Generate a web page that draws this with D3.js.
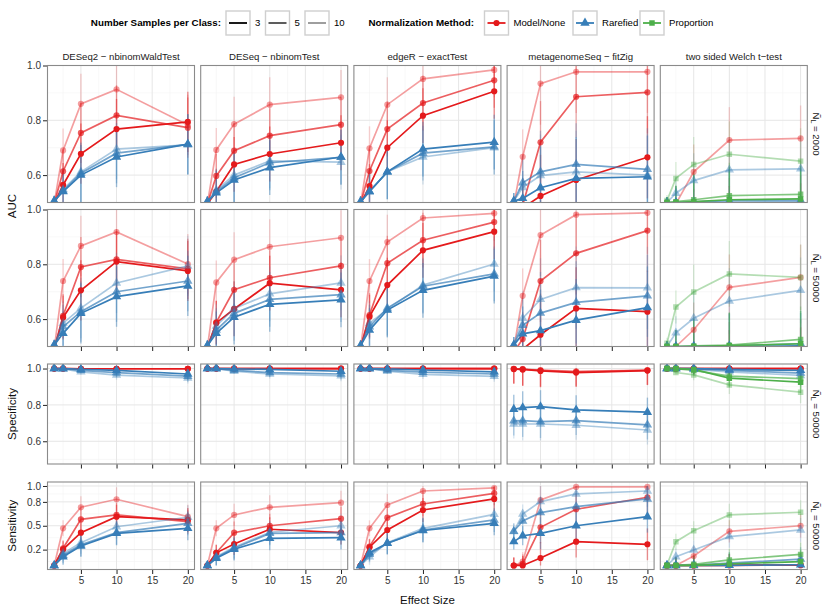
<!DOCTYPE html>
<html><head><meta charset="utf-8">
<script src="https://cdn.jsdelivr.net/npm/d3@7"></script>
<style>body{margin:0;background:#fff}</style>
</head><body><svg id="c" width="830" height="611"></svg>
<script>
// ---------------- DATA ----------------
const effectSizes = [1.25, 2.5, 5, 10, 20];
const xTickValues = [5, 10, 15, 20];
const xMinorValues = [2.5, 7.5, 12.5, 17.5];
const methods = ["DESeq2 \u2212 nbinomWaldTest", "DESeq \u2212 nbinomTest", "edgeR \u2212 exactTest", "metagenomeSeq \u2212 fitZig", "two sided Welch t\u2212test"];
const sampleSizes = ["3", "5", "10"];
const normMethods = ["Model/None", "Rarefied", "Proportion"];
const libSizes = ["2000", "50000", "50000", "50000"];
const metricTitles = ["AUC", "Specificity", "Sensitivity"];
const yTicksAUC = [0.6, 0.8, 1.0], yMinorAUC = [0.5, 0.7, 0.9];
const yTicksSpec = [0.6, 0.8, 1.0], yMinorSpec = [0.5, 0.7, 0.9];
const yTicksSens = [0.2, 0.5, 0.8, 1.0], yMinorSens = [0.05, 0.35, 0.65, 0.9];

// each array: rows = sample size 3, 5, 10 ; columns = effect sizes
// AUC, N_L = 2000
const auc2k_DESeq2_None = [[0.495,0.564,0.678,0.768,0.794],[0.495,0.614,0.754,0.818,0.773],[0.495,0.69,0.86,0.913,0.783]];
const auc2k_DESeq2_Rare = [[0.505,0.54,0.6,0.666,0.713],[0.505,0.543,0.607,0.68,0.712],[0.505,0.548,0.612,0.695,0.71]];
const auc2k_DESeq_None  = [[0.495,0.54,0.639,0.677,0.718],[0.495,0.597,0.689,0.744,0.784],[0.495,0.692,0.786,0.857,0.884]];
const auc2k_DESeq_Rare  = [[0.503,0.535,0.582,0.627,0.666],[0.503,0.54,0.59,0.645,0.665],[0.503,0.545,0.6,0.652,0.647]];
const auc2k_edgeR_None  = [[0.495,0.56,0.7,0.817,0.906],[0.495,0.615,0.768,0.863,0.946],[0.495,0.698,0.857,0.951,0.984]];
const auc2k_edgeR_Rare  = [[0.503,0.54,0.612,0.695,0.72],[0.503,0.54,0.612,0.68,0.703],[0.503,0.54,0.612,0.666,0.7]];
const auc2k_mgs_None    = [[0.46,0.48,0.524,0.582,0.665],[0.48,0.49,0.72,0.886,0.902],[0.49,0.667,0.934,0.977,0.977]];
const auc2k_mgs_Rare    = [[0.505,0.515,0.554,0.588,0.594],[0.505,0.572,0.612,0.639,0.621],[0.505,0.555,0.598,0.612,0.6]];
const auc2k_ttest_None  = [[0.4,0.41,0.42,0.44,0.45],[0.42,0.43,0.45,0.47,0.48],[0.47,0.495,0.612,0.728,0.734]];
const auc2k_ttest_Rare  = [[0.499,0.499,0.5,0.5,0.501],[0.5,0.5,0.502,0.507,0.508],[0.5,0.534,0.58,0.619,0.623]];
const auc2k_ttest_Prop  = [[0.5,0.5,0.503,0.51,0.513],[0.5,0.503,0.51,0.525,0.53],[0.507,0.588,0.639,0.676,0.651]];
// AUC, N_L = 50000
const auc50k_DESeq2_None = [[0.49,0.606,0.705,0.81,0.776],[0.49,0.612,0.79,0.818,0.783],[0.49,0.739,0.867,0.918,0.801]];
const auc50k_DESeq2_Rare = [[0.505,0.548,0.621,0.682,0.721],[0.505,0.572,0.627,0.7,0.739],[0.505,0.585,0.64,0.732,0.794]];
const auc50k_DESeq_None  = [[0.495,0.586,0.637,0.731,0.707],[0.495,0.588,0.707,0.751,0.794],[0.495,0.734,0.817,0.864,0.897]];
const auc50k_DESeq_Rare  = [[0.503,0.548,0.607,0.654,0.67],[0.503,0.56,0.621,0.672,0.689],[0.503,0.575,0.639,0.692,0.732]];
const auc50k_edgeR_None  = [[0.495,0.609,0.724,0.851,0.919],[0.495,0.615,0.804,0.888,0.954],[0.495,0.739,0.881,0.969,0.986]];
const auc50k_edgeR_Rare  = [[0.503,0.56,0.633,0.705,0.757],[0.503,0.572,0.64,0.72,0.765],[0.503,0.585,0.635,0.724,0.801]];
const auc50k_mgs_None    = [[0.46,0.49,0.543,0.639,0.627],[0.48,0.527,0.739,0.84,0.923],[0.49,0.685,0.907,0.981,0.988]];
const auc50k_mgs_Rare    = [[0.505,0.546,0.558,0.596,0.642],[0.505,0.577,0.622,0.661,0.685],[0.505,0.603,0.672,0.715,0.714]];
const auc50k_ttest_None  = [[0.4,0.41,0.42,0.44,0.45],[0.42,0.43,0.45,0.47,0.48],[0.47,0.5,0.561,0.716,0.752]];
const auc50k_ttest_Rare  = [[0.499,0.499,0.5,0.5,0.502],[0.5,0.5,0.5,0.502,0.51],[0.5,0.55,0.603,0.666,0.705]];
const auc50k_ttest_Prop  = [[0.5,0.5,0.5,0.503,0.51],[0.5,0.5,0.502,0.505,0.526],[0.512,0.644,0.699,0.765,0.752]];
// Specificity, N_L = 50000
const spec_DESeq2_None = [[1,1,0.999,0.999,0.999],[1,1,0.999,0.999,0.999],[1,1,0.999,0.999,0.999]];
const spec_DESeq2_Rare = [[1,1,0.996,0.99,0.97],[1,0.999,0.99,0.978,0.958],[1,0.998,0.982,0.964,0.948]];
const spec_DESeq_None  = [[1,1,1,1,1],[1,1,1,1,1],[1,1,1,1,1]];
const spec_DESeq_Rare  = [[1,1,0.998,0.995,0.985],[1,1,0.99,0.978,0.97],[1,0.999,0.985,0.97,0.96]];
const spec_edgeR_None  = [[1,1,1,1,1],[1,1,1,1,1],[1,1,1,1,1]];
const spec_edgeR_Rare  = [[1,1,0.998,0.992,0.982],[1,1,0.99,0.98,0.97],[1,0.999,0.985,0.968,0.957]];
const spec_mgs_None    = [[0.997,0.995,0.987,0.978,0.989],[0.998,0.996,0.99,0.982,0.99],[0.999,0.997,0.992,0.985,0.992]];
const spec_mgs_Rare    = [[0.776,0.785,0.791,0.773,0.76],[0.712,0.714,0.708,0.714,0.69],[0.695,0.695,0.695,0.688,0.662]];
const spec_ttest_None  = [[1,1,1,1,1],[1,1,1,1,1],[1,1,1,1,1]];
const spec_ttest_Rare  = [[1,1,1,0.995,0.99],[1,1,0.998,0.99,0.975],[1,1,0.995,0.982,0.962]];
const spec_ttest_Prop  = [[1,1,0.995,0.947,0.925],[1,0.999,0.99,0.958,0.945],[1,0.978,0.965,0.91,0.87]];
// Sensitivity, N_L = 50000
const sens_DESeq2_None = [[0,0.204,0.413,0.614,0.573],[0,0.217,0.58,0.636,0.551],[0,0.468,0.732,0.833,0.614]];
const sens_DESeq2_Rare = [[0,0.111,0.246,0.404,0.468],[0,0.13,0.26,0.413,0.531],[0,0.154,0.287,0.488,0.607]];
const sens_DESeq_None  = [[0,0.16,0.271,0.456,0.413],[0,0.161,0.413,0.5,0.589],[0,0.468,0.636,0.732,0.79]];
const sens_DESeq_Rare  = [[0,0.091,0.204,0.342,0.35],[0,0.1,0.217,0.404,0.413],[0,0.11,0.23,0.418,0.5]];
const sens_edgeR_None  = [[0,0.23,0.447,0.698,0.837],[0,0.237,0.602,0.774,0.908],[0,0.468,0.761,0.937,0.975]];
const sens_edgeR_Rare  = [[0,0.161,0.28,0.44,0.531],[0,0.141,0.28,0.447,0.573],[0,0.11,0.287,0.468,0.644]];
const sens_mgs_None    = [[0,0,0.095,0.3,0.267],[0,0.02,0.48,0.707,0.858],[0,0.048,0.824,0.988,0.988]];
const sens_mgs_Rare    = [[0.3,0.375,0.405,0.5,0.614],[0.43,0.56,0.665,0.74,0.837],[0.426,0.648,0.803,0.9,0.937]];
const sens_ttest_None  = [[0,0,0,0.003,0.005],[0,0,0,0.005,0.01],[0,0,0.12,0.43,0.5]];
const sens_ttest_Rare  = [[0,0,0,0.003,0.01],[0,0,0.005,0.03,0.08],[0,0.11,0.195,0.363,0.447]];
const sens_ttest_Prop  = [[0,0,0.003,0.02,0.05],[0,0.003,0.015,0.07,0.14],[0.007,0.3,0.438,0.636,0.67]];

// error-bar half widths, one array per panel (effect sizes)
const err_auc2k  = [[0.02,0.08,0.11,0.11,0.11],[0.02,0.08,0.1,0.1,0.1],[0.02,0.08,0.1,0.1,0.1],[0.03,0.1,0.15,0.15,0.15],[0.02,0.06,0.1,0.12,0.12]];
const err_auc50k = [[0.02,0.08,0.11,0.11,0.11],[0.02,0.08,0.1,0.1,0.1],[0.02,0.08,0.1,0.1,0.1],[0.03,0.1,0.15,0.15,0.15],[0.02,0.06,0.1,0.12,0.12]];
const err_spec   = [[0.002,0.005,0.015,0.025,0.03],[0.002,0.005,0.015,0.025,0.03],[0.002,0.005,0.015,0.025,0.03],[0.08,0.09,0.09,0.08,0.08],[0.003,0.01,0.03,0.05,0.06]];
const err_sens   = [[0.02,0.1,0.14,0.15,0.15],[0.02,0.1,0.14,0.15,0.15],[0.02,0.1,0.14,0.15,0.15],[0.1,0.12,0.2,0.2,0.2],[0.02,0.1,0.12,0.14,0.15]];

const panelSeries = [
  [[auc2k_DESeq2_None,auc2k_DESeq2_Rare,null],[auc2k_DESeq_None,auc2k_DESeq_Rare,null],[auc2k_edgeR_None,auc2k_edgeR_Rare,null],[auc2k_mgs_None,auc2k_mgs_Rare,null],[auc2k_ttest_None,auc2k_ttest_Rare,auc2k_ttest_Prop]],
  [[auc50k_DESeq2_None,auc50k_DESeq2_Rare,null],[auc50k_DESeq_None,auc50k_DESeq_Rare,null],[auc50k_edgeR_None,auc50k_edgeR_Rare,null],[auc50k_mgs_None,auc50k_mgs_Rare,null],[auc50k_ttest_None,auc50k_ttest_Rare,auc50k_ttest_Prop]],
  [[spec_DESeq2_None,spec_DESeq2_Rare,null],[spec_DESeq_None,spec_DESeq_Rare,null],[spec_edgeR_None,spec_edgeR_Rare,null],[spec_mgs_None,spec_mgs_Rare,null],[spec_ttest_None,spec_ttest_Rare,spec_ttest_Prop]],
  [[sens_DESeq2_None,sens_DESeq2_Rare,null],[sens_DESeq_None,sens_DESeq_Rare,null],[sens_edgeR_None,sens_edgeR_Rare,null],[sens_mgs_None,sens_mgs_Rare,null],[sens_ttest_None,sens_ttest_Rare,sens_ttest_Prop]]
];
const panelErr = [err_auc2k, err_auc50k, err_spec, err_sens];

// ---------------- LAYOUT / STYLE ----------------
const FONT = '"Liberation Sans", Arial, Helvetica, sans-serif';
const normColors = ["#E41A1C", "#377EB8", "#4DAF4A"];
const normShapes = [d3.symbolCircle, d3.symbolTriangle, d3.symbolSquare];
const shapeSizes = [30, 38, 30];
const sizeAlpha = [1, 0.7, 0.42];
const colLeft = [47.5, 200.7, 353.9, 507.1, 660.3];
const panelW = 147;
const rowBox = [[65.5, 202.5], [209.5, 346.5], [364, 464], [482, 569.5]];
const rowDomain = [[0.5, 1.0], [0.5, 1.0], [0.475, 1.025], [-0.05, 1.05]];
const rowTicks = [yTicksAUC, yTicksAUC, yTicksSpec, yTicksSens];
const rowMinor = [yMinorAUC, yMinorAUC, yMinorSpec, yMinorSens];
const xDomain = [0.3125, 20.9375];

const svg = d3.select("#c").style("font-family", FONT);
const defs = svg.append("defs");

rowBox.forEach((rb, ri) => {
  const [top, bottom] = rb;
  const y = d3.scaleLinear().domain(rowDomain[ri]).range([bottom, top]);
  methods.forEach((m, ci) => {
    const L = colLeft[ci];
    const x = d3.scaleLinear().domain(xDomain).range([L, L + panelW]);
    const g = svg.append("g");
    const cid = "clip" + ri + "_" + ci;
    defs.append("clipPath").attr("id", cid).append("rect")
      .attr("x", L).attr("y", top).attr("width", panelW).attr("height", bottom - top);
    g.append("rect").attr("x", L).attr("y", top).attr("width", panelW).attr("height", bottom - top).attr("fill", "#fff");
    const grid = g.append("g").attr("clip-path", `url(#${cid})`);
    xMinorValues.forEach(v => grid.append("line").attr("x1", x(v)).attr("x2", x(v)).attr("y1", top).attr("y2", bottom).attr("stroke", "#f3f3f3").attr("stroke-width", 0.6));
    rowMinor[ri].forEach(v => grid.append("line").attr("y1", y(v)).attr("y2", y(v)).attr("x1", L).attr("x2", L + panelW).attr("stroke", "#f3f3f3").attr("stroke-width", 0.6));
    xTickValues.forEach(v => grid.append("line").attr("x1", x(v)).attr("x2", x(v)).attr("y1", top).attr("y2", bottom).attr("stroke", "#e6e6e6").attr("stroke-width", 1));
    rowTicks[ri].forEach(v => grid.append("line").attr("y1", y(v)).attr("y2", y(v)).attr("x1", L).attr("x2", L + panelW).attr("stroke", "#e6e6e6").attr("stroke-width", 1));

    const data = g.append("g").attr("clip-path", `url(#${cid})`);
    const errs = panelErr[ri][ci];
    const seriesList = [];
    panelSeries[ri][ci].forEach((arr, ni) => {
      if (!arr) return;
      arr.forEach((vals, si) => seriesList.push({ ni, si, pts: effectSizes.map((e, k) => ({ x: e, v: vals[k], e: errs[k] })) }));
    });
    // error bars
    seriesList.forEach(s => {
      data.append("g").selectAll("line").data(s.pts).join("line")
        .attr("x1", d => x(d.x)).attr("x2", d => x(d.x))
        .attr("y1", d => y(Math.max(0, d.v - d.e))).attr("y2", d => y(Math.min(1, d.v + d.e)))
        .attr("stroke", normColors[s.ni]).attr("stroke-width", 1.4).attr("opacity", sizeAlpha[s.si] * 0.45);
    });
    // lines
    const line = d3.line().x(d => x(d.x)).y(d => y(d.v));
    seriesList.forEach(s => {
      data.append("path").attr("d", line(s.pts)).attr("fill", "none")
        .attr("stroke", normColors[s.ni]).attr("stroke-width", 1.7).attr("opacity", sizeAlpha[s.si]);
    });
    // points
    seriesList.forEach(s => {
      data.append("g").selectAll("path").data(s.pts).join("path")
        .attr("transform", d => `translate(${x(d.x)},${y(d.v)})`)
        .attr("d", d3.symbol().type(normShapes[s.ni]).size(shapeSizes[s.ni]))
        .attr("fill", normColors[s.ni]).attr("opacity", sizeAlpha[s.si]);
    });
    g.append("rect").attr("x", L).attr("y", top).attr("width", panelW).attr("height", bottom - top)
      .attr("fill", "none").attr("stroke", "#8a8a8a").attr("stroke-width", 1.1);

    // y axis on first column
    if (ci === 0) {
      const ax = svg.append("g").attr("transform", `translate(${L - 0.5},0)`)
        .call(d3.axisLeft(y).tickValues(rowTicks[ri]).tickFormat(d3.format(".1f")).tickSize(4).tickPadding(2));
      ax.select(".domain").remove();
      ax.selectAll("line").attr("stroke", "#222").attr("stroke-width", 1);
      ax.selectAll("text").attr("font-size", 10).attr("fill", "#333").attr("font-family", FONT);
    }
    // x axis ticks for rows 2-4
    if (ri > 0) {
      const ax = svg.append("g").attr("transform", `translate(0,${bottom + 0.5})`)
        .call(d3.axisBottom(x).tickValues(xTickValues).tickSize(4).tickPadding(3).tickFormat(ri === 3 ? d3.format("d") : () => ""));
      ax.select(".domain").remove();
      ax.selectAll("line").attr("stroke", "#222").attr("stroke-width", 1);
      ax.selectAll("text").attr("font-size", 10).attr("fill", "#333").attr("font-family", FONT);
    }
    // column strips
    if (ri === 0) {
      svg.append("text").attr("x", L + panelW / 2).attr("y", 60).attr("text-anchor", "middle")
        .attr("font-size", 9.6).attr("fill", "#1a1a1a").text(m);
    }
  });
  // row strip on right
  const cy = (top + bottom) / 2;
  const t = svg.append("text").attr("transform", `translate(813,${cy}) rotate(90)`).attr("text-anchor", "middle")
    .attr("font-size", 9.6).attr("fill", "#1a1a1a");
  t.append("tspan").text("\u00D1");
  t.append("tspan").attr("font-size", 7).attr("dy", 2.5).text("L");
  t.append("tspan").attr("dy", -2.5).text(" = " + libSizes[ri]);
});

// axis titles
function vTitle(txt, cy) {
  svg.append("text").attr("transform", `translate(16,${cy}) rotate(-90)`).attr("text-anchor", "middle")
    .attr("font-size", 11.5).attr("fill", "#111").text(txt);
}
vTitle(metricTitles[0], (rowBox[0][0] + rowBox[1][1]) / 2);
vTitle(metricTitles[1], (rowBox[2][0] + rowBox[2][1]) / 2);
vTitle(metricTitles[2], (rowBox[3][0] + rowBox[3][1]) / 2);
svg.append("text").attr("x", (colLeft[0] + colLeft[4] + panelW) / 2).attr("y", 604).attr("text-anchor", "middle")
  .attr("font-size", 11.5).attr("fill", "#111").text("Effect Size");

// ---------------- LEGEND ----------------
const lg = svg.append("g");
const ly = 11, lh = 24, lw = 24;
lg.append("text").attr("x", 221).attr("y", 26).attr("text-anchor", "end").attr("font-size", 9.8).attr("font-weight", "bold").text("Number Samples per Class:");
const sizeKeyX = [226, 265.5, 305];
sampleSizes.forEach((s, i) => {
  const bx = sizeKeyX[i];
  lg.append("rect").attr("x", bx).attr("y", ly).attr("width", lw).attr("height", lh).attr("fill", "#fff").attr("stroke", "#cfcfcf").attr("stroke-width", 1.4);
  lg.append("line").attr("x1", bx + 3).attr("x2", bx + lw - 3).attr("y1", ly + lh / 2).attr("y2", ly + lh / 2).attr("stroke", "#000").attr("stroke-width", 1.8).attr("opacity", sizeAlpha[i]);
  lg.append("text").attr("x", bx + lw + 5).attr("y", 26).attr("font-size", 9.6).text(s);
});
lg.append("text").attr("x", 474).attr("y", 26).attr("text-anchor", "end").attr("font-size", 9.8).attr("font-weight", "bold").text("Normalization Method:");
const normKeyX = [484.5, 573, 640];
normMethods.forEach((n, i) => {
  const bx = normKeyX[i];
  lg.append("rect").attr("x", bx).attr("y", ly).attr("width", lw).attr("height", lh).attr("fill", "#fff").attr("stroke", "#cfcfcf").attr("stroke-width", 1.4);
  lg.append("line").attr("x1", bx + 3).attr("x2", bx + lw - 3).attr("y1", ly + lh / 2).attr("y2", ly + lh / 2).attr("stroke", normColors[i]).attr("stroke-width", 1.8);
  lg.append("path").attr("transform", `translate(${bx + lw / 2},${ly + lh / 2})`).attr("d", d3.symbol().type(normShapes[i]).size(shapeSizes[i])).attr("fill", normColors[i]);
  lg.append("text").attr("x", bx + lw + 5).attr("y", 26).attr("font-size", 9.6).text(n);
});
</script></body></html>
